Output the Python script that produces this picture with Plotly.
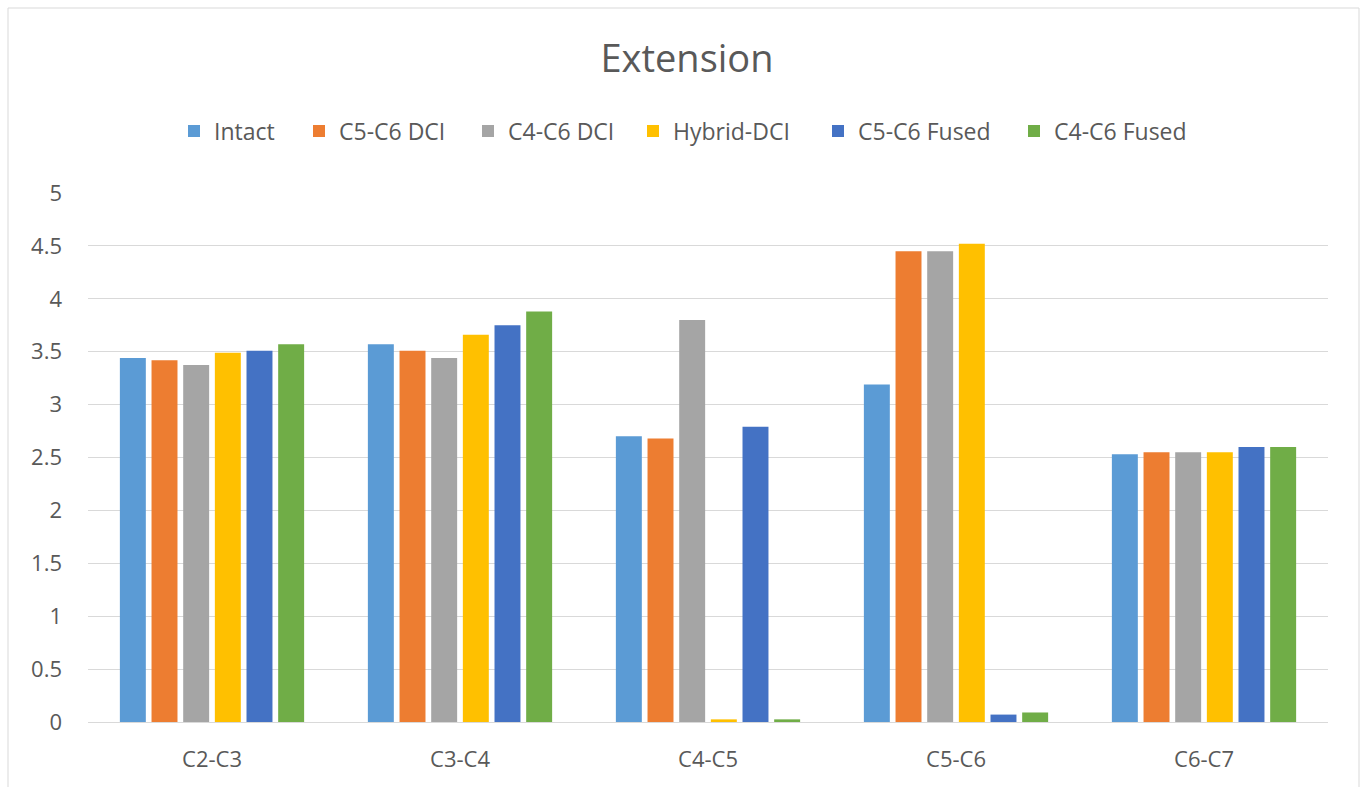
import plotly.graph_objects as go

# Segment labels along the cervical spine
segments = ["C2-C3", "C3-C4", "C4-C5", "C5-C6", "C6-C7"]

# Extension range of motion per model
intact = [3.44, 3.57, 2.70, 3.19, 2.53]
c5c6_dci = [3.42, 3.51, 2.68, 4.45, 2.55]
c4c6_dci = [3.375, 3.44, 3.80, 4.45, 2.55]
hybrid_dci = [3.49, 3.66, 0.025, 4.52, 2.55]
c5c6_fused = [3.51, 3.75, 2.79, 0.07, 2.60]
c4c6_fused = [3.57, 3.88, 0.025, 0.09, 2.60]

series = [
    ("Intact", intact, "#5B9BD5"),
    ("C5-C6 DCI", c5c6_dci, "#ED7D31"),
    ("C4-C6 DCI", c4c6_dci, "#A5A5A5"),
    ("Hybrid-DCI", hybrid_dci, "#FFC000"),
    ("C5-C6 Fused", c5c6_fused, "#4472C4"),
    ("C4-C6 Fused", c4c6_fused, "#70AD47"),
]
# width reserved for each legend entry's label
legend_widths = [80, 124, 120, 140, 151, 134]

y_ticks = [0, 0.5, 1, 1.5, 2, 2.5, 3, 3.5, 4, 4.5, 5]

W, H = 1362, 787
L, R, T, B = 88, 34, 193, 65
pw, ph = W - L - R, H - T - B

def px_x(p):
    return (p - L) / pw

def px_y(p):
    return (H - B - p) / ph

fig = go.Figure()
for (name, vals, color), lw in zip(series, legend_widths):
    fig.add_trace(go.Bar(
        x=segments, y=vals, name=name, legendwidth=lw,
        marker=dict(color=color, line=dict(width=0)),
    ))

font_family = "'Open Sans', sans-serif"
text_color = "#595959"

fig.update_layout(
    width=W, height=H,
    margin=dict(l=L, r=R, t=T, b=B),
    paper_bgcolor="white", plot_bgcolor="white",
    barmode="group", bargap=0.234, bargroupgap=0.18,
    font=dict(family=font_family, color=text_color, size=22),
    title=dict(text="Extension", x=687 / W, xanchor="center",
               y=1 - 59 / H, yanchor="middle", yref="container",
               font=dict(size=38, color=text_color, family=font_family)),
    legend=dict(orientation="h", x=px_x(174), xanchor="left",
                y=px_y(131), yanchor="middle",
                font=dict(size=23, color=text_color),
                itemwidth=30, tracegroupgap=0, bgcolor="rgba(0,0,0,0)"),
    xaxis=dict(showgrid=False, showline=True, linecolor="#D9D9D9", linewidth=1,
               ticks="", ticklabelstandoff=18, tickfont=dict(size=22, color=text_color)),
    yaxis=dict(range=[0, 5], tickvals=y_ticks, ticktext=[f"{v:g}" for v in y_ticks],
               showgrid=True, gridcolor="#D9D9D9", gridwidth=1, zeroline=False,
               showline=False, ticks="", ticklabelstandoff=25,
               tickfont=dict(size=22, color=text_color)),
    shapes=[dict(type="rect", xref="paper", yref="paper",
                 x0=px_x(8), x1=px_x(1359), y0=px_y(800), y1=px_y(8),
                 line=dict(color="#D9D9D9", width=1), fillcolor="rgba(0,0,0,0)",
                 layer="below")],
)

fig.write_html("out.html")
